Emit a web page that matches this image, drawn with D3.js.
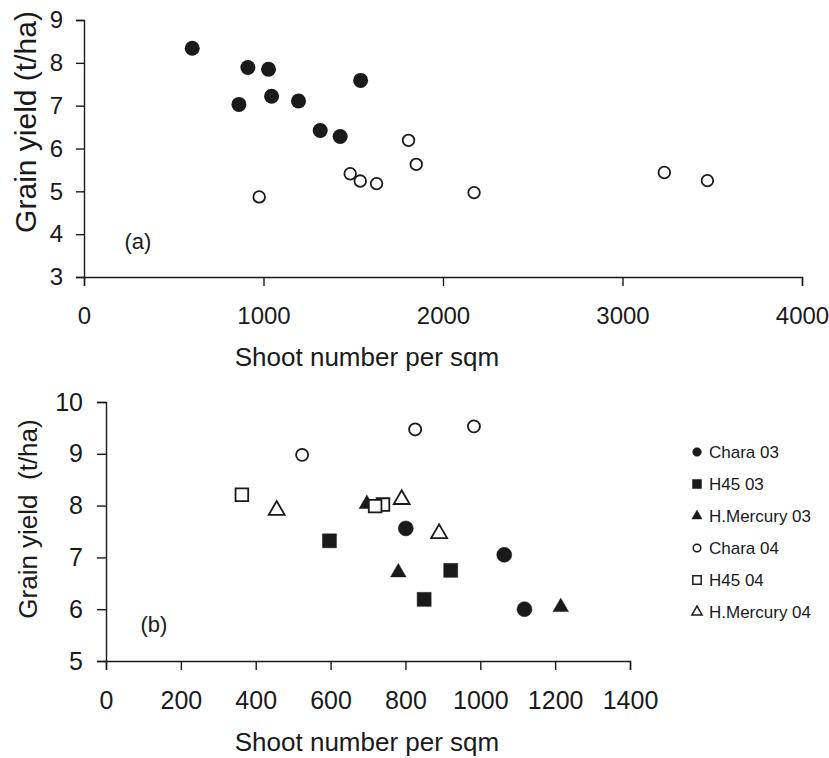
<!DOCTYPE html>
<html><head><meta charset="utf-8">
<script src="https://cdn.jsdelivr.net/npm/d3@7/dist/d3.min.js"></script>
<style>
html,body{margin:0;padding:0;background:#fff;}
text{font-family:Arial,"Liberation Sans",sans-serif;fill:#1a1a1a;}
</style></head>
<body>
<svg id="c" width="829" height="758"></svg>
<script>
// ---- Data: panel (a)
const aXTicks = [0, 1000, 2000, 3000, 4000];
const aYTicks = [3, 4, 5, 6, 7, 8, 9];
const aFilledX = [603, 913, 1028, 863, 1045, 1195, 1541, 1316, 1427];
const aFilledY = [8.34, 7.89, 7.85, 7.03, 7.22, 7.11, 7.59, 6.42, 6.28];
const aOpenX = [976, 1483, 1539, 1630, 1808, 1851, 2173, 3233, 3473];
const aOpenY = [4.87, 5.41, 5.24, 5.18, 6.19, 5.63, 4.97, 5.44, 5.25];

// ---- Data: panel (b)
const bXTicks = [0, 200, 400, 600, 800, 1000, 1200, 1400];
const bYTicks = [5, 6, 7, 8, 9, 10];
const seriesNames = ["Chara 03", "H45 03", "H.Mercury 03", "Chara 04", "H45 04", "H.Mercury 04"];
const chara03X = [801, 1064, 1118], chara03Y = [7.56, 7.05, 6.00];
const h4503X = [597, 850, 921], h4503Y = [7.32, 6.19, 6.75];
const merc03X = [697, 781, 1215], merc03Y = [8.03, 6.71, 6.04];
const chara04X = [524, 826, 983], chara04Y = [8.98, 9.47, 9.53];
const h4504X = [363, 740, 719], h4504Y = [8.21, 8.02, 7.99];
const merc04X = [456, 790, 890], merc04Y = [7.91, 8.12, 7.46];

const svg = d3.select("#c");
const ink = "#1a1a1a";
const fmt = d3.format("d");

function styleAxis(g, fs){
  g.select(".domain").attr("stroke", ink).attr("stroke-width", 1.4);
  g.selectAll(".tick line").attr("stroke", ink).attr("stroke-width", 1.4);
  g.selectAll(".tick text").style("font-size", fs + "px").attr("fill", ink)
   .style("font-family", "Arial, 'Liberation Sans', sans-serif");
}

// ===== Panel (a) =====
const ax = d3.scaleLinear().domain([0, 4000]).range([84, 802]);
const ay = d3.scaleLinear().domain([3, 9]).range([277, 20]);

const gax = svg.append("g").attr("transform", `translate(0,${ay(3)})`)
  .call(d3.axisBottom(ax).tickValues(aXTicks).tickFormat(fmt).tickSizeOuter(0).tickSize(9).tickPadding(21));
styleAxis(gax, 24);
const gay = svg.append("g").attr("transform", `translate(${ax(0)},0)`)
  .call(d3.axisLeft(ay).tickValues(aYTicks).tickFormat(fmt).tickSizeOuter(0).tickSize(8).tickPadding(13));
styleAxis(gay, 24);

svg.append("text").attr("x", 367).attr("y", 366).attr("text-anchor", "middle")
  .style("font-size", "26px").text("Shoot number per sqm");
svg.append("text").attr("transform", "translate(36,122) rotate(-90)").attr("text-anchor", "middle")
  .style("font-size", "30px").text("Grain yield (t/ha)");
svg.append("text").attr("x", 138).attr("y", 249).attr("text-anchor", "middle")
  .style("font-size", "22px").text("(a)");

svg.append("g").selectAll("circle").data(aFilledX).join("circle")
  .attr("cx", (d) => ax(d)).attr("cy", (d, i) => ay(aFilledY[i])).attr("r", 7.5).attr("fill", ink);
svg.append("g").selectAll("circle").data(aOpenX).join("circle")
  .attr("cx", (d) => ax(d)).attr("cy", (d, i) => ay(aOpenY[i])).attr("r", 5.8)
  .attr("fill", "#fff").attr("stroke", ink).attr("stroke-width", 1.8);

// ===== Panel (b) =====
const bx = d3.scaleLinear().domain([0, 1400]).range([106, 630]);
const by = d3.scaleLinear().domain([5, 10]).range([661, 402]);

const gbx = svg.append("g").attr("transform", `translate(0,${by(5)})`)
  .call(d3.axisBottom(bx).tickValues(bXTicks).tickFormat(fmt).tickSizeOuter(0).tickSize(9).tickPadding(21));
styleAxis(gbx, 25);
const gby = svg.append("g").attr("transform", `translate(${bx(0)},0)`)
  .call(d3.axisLeft(by).tickValues(bYTicks).tickFormat(fmt).tickSizeOuter(0).tickSize(9).tickPadding(14));
styleAxis(gby, 25);

svg.append("text").attr("x", 367).attr("y", 751).attr("text-anchor", "middle")
  .style("font-size", "26px").text("Shoot number per sqm");
svg.append("text").attr("transform", "translate(37,519) rotate(-90)").attr("text-anchor", "middle")
  .style("font-size", "26px").style("white-space", "pre").text("Grain yield  (t/ha)");
svg.append("text").attr("x", 154).attr("y", 632).attr("text-anchor", "middle")
  .style("font-size", "22px").text("(b)");

const series = [
  {name: seriesNames[0], xs: chara03X, ys: chara03Y, shape: d3.symbolCircle, filled: true, size: 177, lsize: 60},
  {name: seriesNames[1], xs: h4503X, ys: h4503Y, shape: d3.symbolSquare, filled: true, size: 196, lsize: 81},
  {name: seriesNames[2], xs: merc03X, ys: merc03Y, shape: d3.symbolTriangle, filled: true, size: 105, lsize: 45},
  {name: seriesNames[3], xs: chara04X, ys: chara04Y, shape: d3.symbolCircle, filled: false, size: 115, lsize: 45},
  {name: seriesNames[4], xs: h4504X, ys: h4504Y, shape: d3.symbolSquare, filled: false, size: 160, lsize: 70},
  {name: seriesNames[5], xs: merc04X, ys: merc04Y, shape: d3.symbolTriangle, filled: false, size: 110, lsize: 45}
];

series.forEach((s) => {
  const path = d3.symbol().type(s.shape).size(s.size)();
  svg.append("g").selectAll("path").data(s.xs).join("path")
    .attr("d", path)
    .attr("transform", (d, i) => `translate(${bx(d)},${by(s.ys[i])})`)
    .attr("fill", s.filled ? ink : "#fff")
    .attr("stroke", ink).attr("stroke-width", s.filled ? 0.5 : 1.8);
});

// Legend
const legRows = [452, 484, 516, 548, 580, 612];
const leg = svg.append("g");
series.forEach((s, i) => {
  const y = legRows[i];
  leg.append("path").attr("d", d3.symbol().type(s.shape).size(s.lsize)())
    .attr("transform", `translate(697,${y})`)
    .attr("fill", s.filled ? ink : "#fff").attr("stroke", ink).attr("stroke-width", s.filled ? 0.5 : 1.5);
  leg.append("text").attr("x", 709).attr("y", y + 6).style("font-size", "17px").text(s.name);
});
</script>
</body></html>
